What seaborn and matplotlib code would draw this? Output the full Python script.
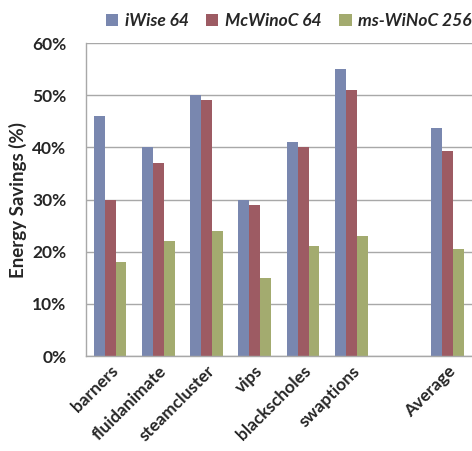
import pandas as pd
import matplotlib.pyplot as plt
import seaborn as sns
import numpy as np
from matplotlib.ticker import FixedLocator, PercentFormatter

# --- Data ---
benchmarks = ['barners', 'fluidanimate', 'steamcluster', 'vips', 'blackscholes', 'swaptions', '', 'Average']
series = ['iWise 64', 'McWinoC 64', 'ms-WiNoC 256']
iwise = [46, 40, 50, 30, 41, 55, np.nan, 43.7]
mcwinoc = [30, 37, 49, 29, 40, 51, np.nan, 39.3]
mswinoc = [18, 22, 24, 15, 21, 23, np.nan, 20.5]
colors = ['#7083B8', '#A8505B', '#ABB565']

rows = []
for name, vals in zip(series, [iwise, mcwinoc, mswinoc]):
    for b, v in zip(benchmarks, vals):
        rows.append({'benchmark': b, 'series': name, 'saving': v})
df = pd.DataFrame(rows)

sns.set_style('white')
plt.rcParams['font.family'] = ['Lato', 'DejaVu Sans']

fig = plt.figure(figsize=(4.72, 4.51), dpi=100)
ax = fig.add_axes([0.182, 0.2106, 0.818, 0.694])

sns.barplot(data=df, x='benchmark', y='saving', hue='series', order=benchmarks,
            hue_order=series, palette=colors, width=0.68, gap=0,
            edgecolor='none', linewidth=0, ax=ax)

ax.set_ylim(0, 60)
ax.set_xlim(-0.5, len(benchmarks) - 0.5)
ax.yaxis.set_major_locator(FixedLocator(range(0, 61, 10)))
ax.yaxis.set_major_formatter(PercentFormatter(decimals=0))
ax.grid(axis='y', color='#A8A8A8', linewidth=1)
ax.set_axisbelow(True)

for side in ['top', 'right']:
    ax.spines[side].set_visible(False)
for side in ['left', 'bottom']:
    ax.spines[side].set_color('#A8A8A8')
    ax.spines[side].set_linewidth(1)

# category boundary ticks like the original
ax.set_xticks(np.arange(-0.5, len(benchmarks), 1), minor=True)
ax.tick_params(axis='x', which='minor', length=5, color='#A8A8A8', width=1)
ax.tick_params(axis='x', which='major', length=0, pad=5)
ax.tick_params(axis='y', length=5, color='#A8A8A8', width=1, pad=9)

ax.set_xticks(range(len(benchmarks)))
ax.set_xticklabels(benchmarks, rotation=45, ha='right', rotation_mode='anchor',
                   fontsize=12.5, fontweight='bold', color='#262626')
for lbl in ax.get_yticklabels():
    lbl.set_fontsize(12.5)
    lbl.set_fontweight('bold')
    lbl.set_color('#262626')

ax.set_xlabel('')
ax.set_ylabel('Energy Savings (%)', fontsize=13.5, fontweight='bold', color='#262626', labelpad=4)

leg = ax.legend(loc='lower right', bbox_to_anchor=(1.0, 1.045), ncol=3, frameon=False,
                prop={'size': 12.5, 'weight': 'bold', 'style': 'italic'},
                handlelength=0.7, handleheight=0.7, handletextpad=0.4,
                columnspacing=1.0, borderaxespad=0, borderpad=0)
for t in leg.get_texts():
    t.set_color('#262626')

plt.savefig('out.png', dpi=100)
